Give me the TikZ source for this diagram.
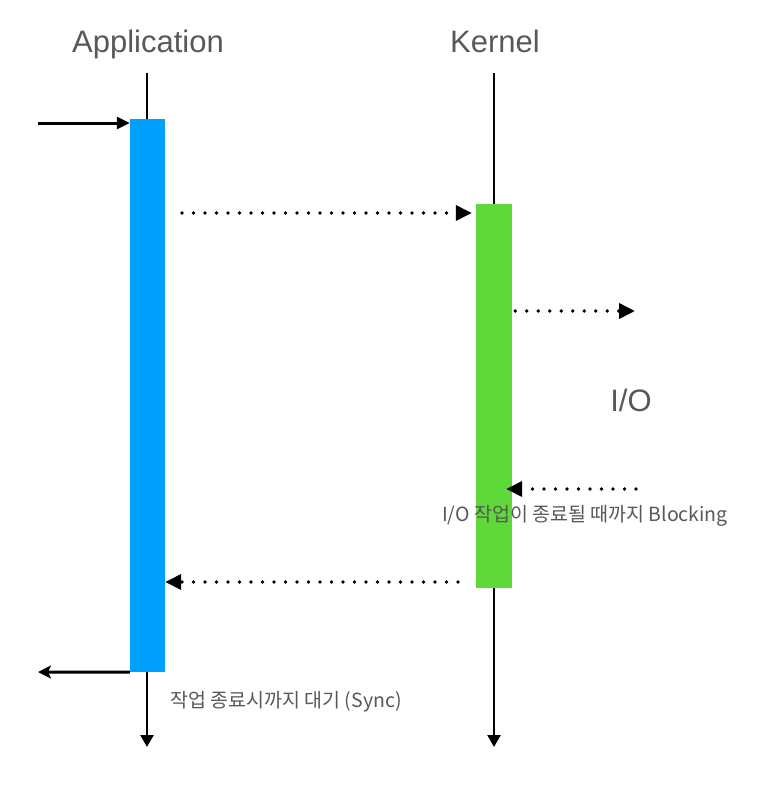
\documentclass[tikz,border=0pt]{standalone}
\usepackage{fontspec}
\setmainfont{Liberation Sans}
\newfontfamily\krfont{Noto Sans CJK KR}
\usetikzlibrary{arrows.meta}
\definecolor{appblue}{RGB}{0,160,255}
\definecolor{kernelgreen}{RGB}{95,217,58}
\definecolor{textgray}{RGB}{88,88,88}

\begin{document}
\begin{tikzpicture}[x=1pt, y=-1pt]
  % Styling
  \tikzset{
    title/.style={
      font=\fontsize{31}{36}\selectfont,
      textgray,
      anchor=base
    },
    note/.style={
      font=\krfont\fontsize{19.5}{24}\selectfont,
      textgray
    },
    bar/.style={
      rectangle,
      inner sep=0pt,
      minimum width=36pt
    },
    lifeline/.style={
      -{Triangle[length=12pt, width=13pt]},
      line width=2.5pt,
      black
    },
    flow/.style={
      line width=3pt,
      black
    },
    call/.style={
      -{Triangle[length=16pt, width=15pt]},
      line width=3.6pt,
      line cap=round,
      dash pattern=on 0pt off 11.5pt,
      black
    }
  }
  \useasboundingbox (0,0) rectangle (766,798);

  % ===== Titles =====
  \node[title] (apptitle) at (148,52) {Application};
  \node[title] (kerneltitle) at (495,52) {Kernel};

  % ===== Lifelines =====
  \coordinate (apptop) at (147,73);
  \coordinate (appbot) at (147,747);
  \coordinate (kerneltop) at (494,73);
  \coordinate (kernelbot) at (494,747);
  \draw[lifeline] (apptop) -- (appbot);
  \draw[lifeline] (kerneltop) -- (kernelbot);

  % Activation bars
  \node[bar, fill=appblue, minimum width=35pt, minimum height=553pt] (appbar) at (147.5,395.5) {};
  \node[bar, fill=kernelgreen, minimum height=384pt] (kernelbar) at (494,396) {};

  % ===== Application in / out =====
  \coordinate (entry) at (38,123);
  \coordinate (exit) at (38,672);
  \draw[flow, -{Triangle[length=13pt, width=12pt]}] (entry) -- (appbar.west |- entry);
  \draw[flow, -{Stealth[length=13pt, width=13pt, inset=3pt]}] (appbar.south west) -- (exit);

  % ===== Calls =====
  \coordinate (syscall) at (182,213);
  \coordinate (ioout) at (635,311);
  \coordinate (ioin) at (636,489);
  \coordinate (reply) at (458,582);
  \draw[call, shorten >=4pt] (syscall) -- (kernelbar.west |- syscall);
  \draw[call, shorten <=3pt] (kernelbar.east |- ioout) -- (ioout);
  \draw[call, shorten >=-6pt] (ioin) -- (kernelbar.east |- ioin);
  \draw[call] (reply) -- (appbar.east |- reply);

  % ===== Labels =====
  \node[title] (iolabel) at (631,411) {I/O};
  \node[note] (blocklabel) at (585,516) {I/O 작업이 종료될 때까지 Blocking};
  \node[note] (synclabel) at (286,702) {작업 종료시까지 대기 (Sync)};

\end{tikzpicture}
\end{document}
